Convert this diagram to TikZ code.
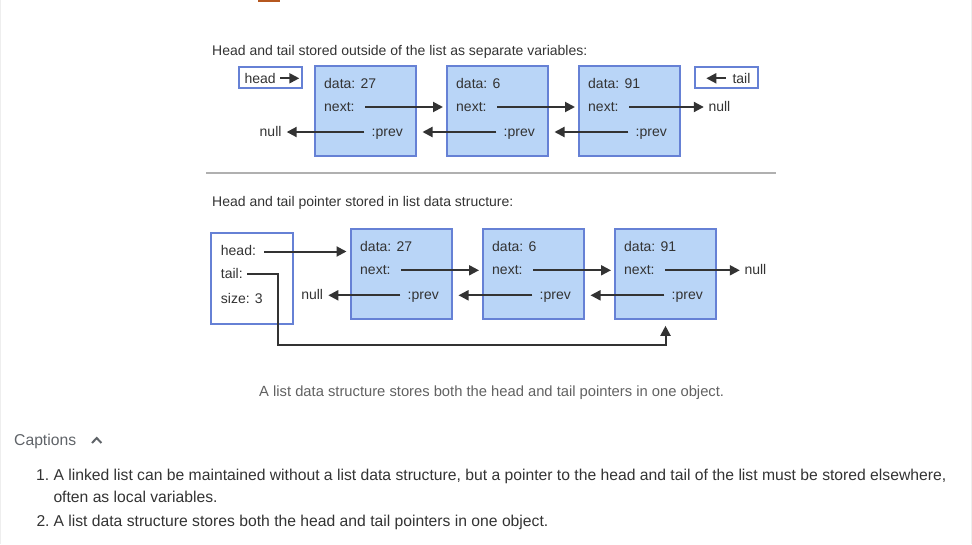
\documentclass[tikz,border=0pt]{standalone}
\usepackage{fontspec}
\setmainfont{Liberation Sans}
\usetikzlibrary{arrows.meta}

\definecolor{cellfill}{HTML}{B9D5F7}
\definecolor{cellline}{HTML}{6681D5}
\definecolor{ink}{HTML}{333333}
\definecolor{notegray}{HTML}{616161}
\definecolor{headgray}{HTML}{5F6368}
\definecolor{rulegray}{HTML}{B0B0B0}
\definecolor{edgegray}{HTML}{EEEEEE}
\definecolor{tabcolor}{HTML}{B5571F}

\begin{document}
\begin{tikzpicture}[x=1pt, y=-1pt,
  cell/.style={draw=cellline, fill=cellfill, line width=2pt, minimum width=101pt, minimum height=90pt, inner sep=0, outer sep=0, anchor=north west},
  varbox/.style={draw=cellline, fill=white, line width=2pt, inner sep=0, outer sep=0, anchor=north west},
  lbl/.style={text=ink, inner sep=0, anchor=base west, font=\fontsize{14}{16}\selectfont},
  ptr/.style={draw=ink, line width=2pt, -{Triangle[length=10pt, width=10pt]}},
  note/.style={text=notegray, inner sep=0, anchor=base west, font=\fontsize{14.75}{17}\selectfont},
  item/.style={text=ink, inner sep=0, anchor=base west, font=\fontsize{15.7}{18}\selectfont}]

\useasboundingbox (0,0) rectangle (972,544);

\def \gap {132}

% page edges and tab
\fill[edgegray] (0,0) rectangle (1,544);
\fill[edgegray] (971,0) rectangle (972,544);
\fill[tabcolor] (258,0) rectangle (280,2);

% ---- head and tail as variables ----
\node[lbl] (title1) at (212,55) {Head and tail stored outside of the list as separate variables:};

\foreach \val [count=\i] in {27, 6, 91}
{
  \node[cell] (a\i) at ({315 + \gap*(\i-1)}, 66) {};
  \node[lbl] (a\i-d) at ([xshift=9pt, yshift=-22pt]a\i.north west) {data: \val};
  \node[lbl] (a\i-n) at ([xshift=9pt, yshift=-45pt]a\i.north west) {next:};
  \node[lbl, anchor=base east] (a\i-p) at ([xshift=-13pt, yshift=-70pt]a\i.north east) {:prev};
}
\foreach \i/\j in {1/2, 2/3}
{
  \draw[ptr] ([xshift=10.5pt, yshift=4pt]a\i-n.base east) -- ([xshift=-4pt, yshift=4pt]a\j.west |- a\i-n.base);
  \draw[ptr] ([xshift=-7pt, yshift=4pt]a\j-p.base west) -- ([xshift=6.5pt, yshift=4pt]a\i.east |- a\j-p.base);
}

\node[lbl, anchor=base east] (nullA) at (281.7,136) {null};
\node[lbl] (nullB) at (708.3,111) {null};
\draw[ptr] ([xshift=-7pt, yshift=4pt]a1-p.base west) -- ([xshift=5pt, yshift=4pt]nullA.base east);
\draw[ptr] ([xshift=10.5pt, yshift=4pt]a3-n.base east) -- ([xshift=-4.5pt, yshift=4pt]nullB.base west);

\node[varbox, minimum width=63pt, minimum height=21.3pt] (headvar) at (239.3,67) {};
\node[lbl] (headvar-t) at (244.3,83.3) {head};
\draw[ptr] ([xshift=4.6pt, yshift=5pt]headvar-t.base east) -- ([xshift=-3pt, yshift=5pt]headvar.east |- headvar-t.base);

\node[varbox, minimum width=63pt, minimum height=21.3pt] (tailvar) at (695.3,67) {};
\node[lbl] (tailvar-t) at (732.3,83.3) {tail};
\draw[ptr] ([xshift=-6.5pt, yshift=5pt]tailvar-t.base west) -- ([xshift=11pt, yshift=5pt]tailvar.west |- tailvar-t.base);

\draw[rulegray, line width=2pt] (206,172.7) -- (776,172.7);

% ---- head and tail in a list object ----
\node[lbl] (title2) at (212,206) {Head and tail pointer stored in list data structure:};

\foreach \val [count=\i] in {27, 6, 91}
{
  \node[cell] (b\i) at ({351 + \gap*(\i-1)}, 229.3) {};
  \node[lbl] (b\i-d) at ([xshift=9pt, yshift=-22pt]b\i.north west) {data: \val};
  \node[lbl] (b\i-n) at ([xshift=9pt, yshift=-45pt]b\i.north west) {next:};
  \node[lbl, anchor=base east] (b\i-p) at ([xshift=-13pt, yshift=-70pt]b\i.north east) {:prev};
}
\foreach \i/\j in {1/2, 2/3}
{
  \draw[ptr] ([xshift=10.5pt, yshift=4pt]b\i-n.base east) -- ([xshift=-4pt, yshift=4pt]b\j.west |- b\i-n.base);
  \draw[ptr] ([xshift=-7pt, yshift=4pt]b\j-p.base west) -- ([xshift=6.5pt, yshift=4pt]b\i.east |- b\j-p.base);
}

\node[lbl, anchor=base east] (nullC) at (323.3,299.3) {null};
\node[lbl] (nullD) at (744.3,274.3) {null};
\draw[ptr] ([xshift=-7pt, yshift=4pt]b1-p.base west) -- ([xshift=5pt, yshift=4pt]nullC.base east);
\draw[ptr] ([xshift=10.5pt, yshift=4pt]b3-n.base east) -- ([xshift=-4.5pt, yshift=4pt]nullD.base west);

\node[varbox, minimum width=82pt, minimum height=91.5pt] (lst) at (211,232.5) {};
\node[lbl] (lst-h) at (220.7,255) {head:};
\node[lbl] (lst-t) at (220.7,278.3) {tail:};
\node[lbl] (lst-s) at (220.7,303.3) {size: 3};
\draw[ptr] ([xshift=8.3pt, yshift=3.5pt]lst-h.base east) -- ([xshift=-4.5pt, yshift=3.5pt]b1.west |- lst-h.base);
\draw[ptr] ([xshift=4.2pt, yshift=4pt]lst-t.base east) -- ++(31,0) |- ([yshift=-25.7pt]b3.south) -- ([yshift=-6.5pt]b3.south);

\node[note] (figcap) at (259,396.7) {A list data structure stores both the head and tail pointers in one object.};

% ---- captions ----
\node[item, text=headgray] (caphead) at (14,445) {Captions};
\draw[headgray, line width=2pt] (92,443) -- (96.7,438) -- (101.4,443);

\node[item] (n1) at (36,480) {1.};
\node[item] (i1a) at (53.3,480) {A linked list can be maintained without a list data structure, but a pointer to the head and tail of the list must be stored elsewhere,};
\node[item] (i1b) at (53.3,502.7) {often as local variables.};
\node[item] (n2) at (36.3,526) {2.};
\node[item] (i2) at (53.3,526) {A list data structure stores both the head and tail pointers in one object.};

\end{tikzpicture}
\end{document}
